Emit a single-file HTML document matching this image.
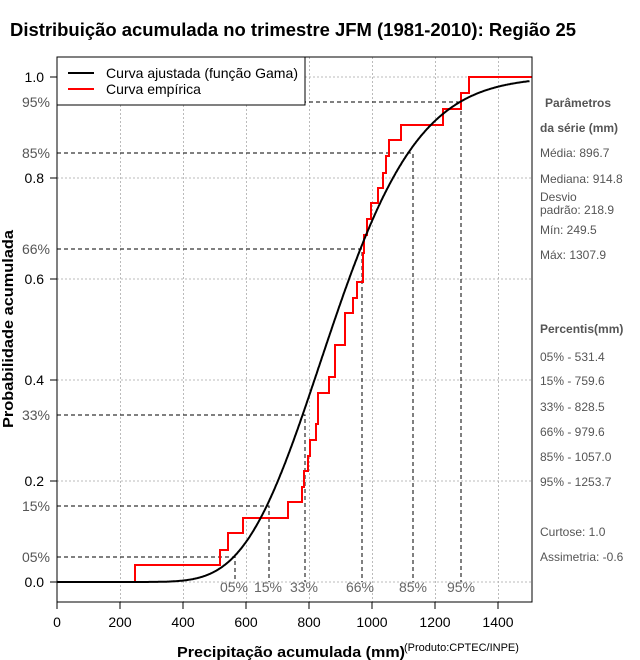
<!DOCTYPE html>
<html><head><meta charset="utf-8"><style>
body{margin:0;background:#fff;width:640px;height:660px;overflow:hidden}
svg{display:block;font-family:"Liberation Sans",sans-serif}
</style></head><body>
<svg id="s" width="640" height="660" xmlns="http://www.w3.org/2000/svg">
<text x="10" y="36" font-size="18" font-weight="bold" textLength="566" lengthAdjust="spacingAndGlyphs">Distribuição acumulada no trimestre JFM (1981-2010): Região 25</text>
<g stroke="#bbb" stroke-dasharray="2,2" stroke-width="1">
<line x1="57" y1="77" x2="532" y2="77"/><line x1="57" y1="178" x2="532" y2="178"/><line x1="57" y1="279" x2="532" y2="279"/><line x1="57" y1="380" x2="532" y2="380"/><line x1="57" y1="481" x2="532" y2="481"/><line x1="57" y1="582" x2="532" y2="582"/>
<line x1="120.5" y1="57" x2="120.5" y2="602"/><line x1="183.5" y1="57" x2="183.5" y2="602"/><line x1="246.5" y1="57" x2="246.5" y2="602"/><line x1="309.5" y1="57" x2="309.5" y2="602"/><line x1="372.5" y1="57" x2="372.5" y2="602"/><line x1="435.5" y1="57" x2="435.5" y2="602"/><line x1="498.5" y1="57" x2="498.5" y2="602"/>
</g>
<g stroke="#000" stroke-dasharray="4,3" stroke-width="1" fill="none">
<polyline points="57,102 461,102 461,582"/><polyline points="57,153 413,153 413,582"/><polyline points="57,249 362,249 362,582"/><polyline points="57,415 305,415 305,582"/><polyline points="57,506 269,506 269,582"/><polyline points="57,557 235,557 235,582"/>
</g>
<path d="M57,582 H135 V565 H220 V550 H228 V533 H243 V518 H288 V502 H302 V487 H304 V471 H308 V456 H310 V440 H316 V424 H318 V393 H329 V377 H335 V345 H345 V313 H353 V298 H357 V282 H363 V253 H364 V235 H367 V219 H371 V203 H378 V188 H383 V173 H386 V156 H389 V140 H401 V125 H443 V109 H461 V93 H469 V77 H532" stroke="#f00" stroke-width="2" fill="none"/>
<path id="g" stroke="#000" stroke-width="2" fill="none"/>
<rect x="57" y="57" width="475" height="545" fill="none" stroke="#000" stroke-width="1"/>
<rect x="57" y="57" width="248" height="48" fill="#fff" stroke="#000" stroke-width="1"/>
<line x1="68" y1="73" x2="94" y2="73" stroke="#000" stroke-width="2"/>
<line x1="68" y1="89" x2="94" y2="89" stroke="#f00" stroke-width="2"/>
<text x="106" y="78" font-size="14" textLength="192" lengthAdjust="spacingAndGlyphs">Curva ajustada (função Gama)</text>
<text x="106" y="94" font-size="14">Curva empírica</text>
<g stroke="#000"><line x1="57" y1="602" x2="57" y2="609"/><line x1="120" y1="602" x2="120" y2="609"/><line x1="183" y1="602" x2="183" y2="609"/><line x1="246" y1="602" x2="246" y2="609"/><line x1="309" y1="602" x2="309" y2="609"/><line x1="372" y1="602" x2="372" y2="609"/><line x1="435" y1="602" x2="435" y2="609"/><line x1="498" y1="602" x2="498" y2="609"/>
<line x1="50" y1="77" x2="57" y2="77"/><line x1="50" y1="178" x2="57" y2="178"/><line x1="50" y1="279" x2="57" y2="279"/><line x1="50" y1="380" x2="57" y2="380"/><line x1="50" y1="481" x2="57" y2="481"/><line x1="50" y1="582" x2="57" y2="582"/></g>
<g font-size="14" text-anchor="middle"><text x="57" y="627">0</text><text x="120" y="627">200</text><text x="183" y="627">400</text><text x="246" y="627">600</text><text x="309" y="627">800</text><text x="372" y="627">1000</text><text x="435" y="627">1200</text><text x="498" y="627">1400</text></g>
<g font-size="14" text-anchor="end"><text x="44" y="82">1.0</text><text x="44" y="183">0.8</text><text x="44" y="284">0.6</text><text x="44" y="385">0.4</text><text x="44" y="486">0.2</text><text x="44" y="587">0.0</text></g>
<g font-size="14" text-anchor="end" fill="#555"><text x="50" y="107">95%</text><text x="50" y="158">85%</text><text x="50" y="254">66%</text><text x="50" y="420">33%</text><text x="50" y="511">15%</text><text x="50" y="562">05%</text></g>
<g font-size="14" fill="#666" text-anchor="middle"><text x="234" y="592">05%</text><text x="268" y="592">15%</text><text x="304" y="592">33%</text><text x="360" y="592">66%</text><text x="413" y="592">85%</text><text x="461" y="592">95%</text></g>
<text x="177" y="657" font-size="15" font-weight="bold" textLength="228" lengthAdjust="spacingAndGlyphs">Precipitação acumulada (mm)</text>
<text x="404" y="651" font-size="11">(Produto:CPTEC/INPE)</text>
<text transform="translate(13,428) rotate(-90)" font-size="15" font-weight="bold" textLength="198" lengthAdjust="spacingAndGlyphs">Probabilidade acumulada</text>
<g font-size="12" fill="#555"><text x="545" y="107" font-weight="bold">Parâmetros</text><text x="540" y="132" font-weight="bold">da série (mm)</text>
<text x="540" y="157">Média: 896.7</text><text x="540" y="183">Mediana: 914.8</text><text x="540" y="201">Desvio</text><text x="540" y="214">padrão: 218.9</text><text x="540" y="234">Mín: 249.5</text><text x="540" y="259">Máx: 1307.9</text>
<text x="540" y="333" font-weight="bold">Percentis(mm)</text><text x="540" y="361">05% - 531.4</text><text x="540" y="385">15% - 759.6</text><text x="540" y="411">33% - 828.5</text><text x="540" y="436">66% - 979.6</text><text x="540" y="461">85% - 1057.0</text><text x="540" y="486">95% - 1253.7</text>
<text x="540" y="536">Curtose: 1.0</text><text x="540" y="561">Assimetria: -0.6</text></g>
</svg>
<script>
(function(){
var k=16.5,th=54;
function lgam(z){var c=[76.18009172947146,-86.50532032941677,24.01409824083091,-1.231739572450155,0.1208650973866179e-2,-0.5395239384953e-5];var x=z,y=z,t=x+5.5;t-=(x+0.5)*Math.log(t);var s=1.000000000190015;for(var j=0;j<6;j++)s+=c[j]/++y;return -t+Math.log(2.5066282746310005*s/x);}
var L=lgam(k);
function pdf(x){return x<=0?0:Math.exp((k-1)*Math.log(x/th)-x/th-L)/th;}
var cum=0,d="M57,582",dx=2;
for(var x=0;x<=1500;x+=dx){cum+=pdf(x+dx/2)*dx;var px=57+x*0.315,py=582-Math.min(cum,1)*505;d+=" L"+px.toFixed(1)+","+py.toFixed(1);}
document.getElementById("g").setAttribute("d",d);
})();
</script>
</body></html>
